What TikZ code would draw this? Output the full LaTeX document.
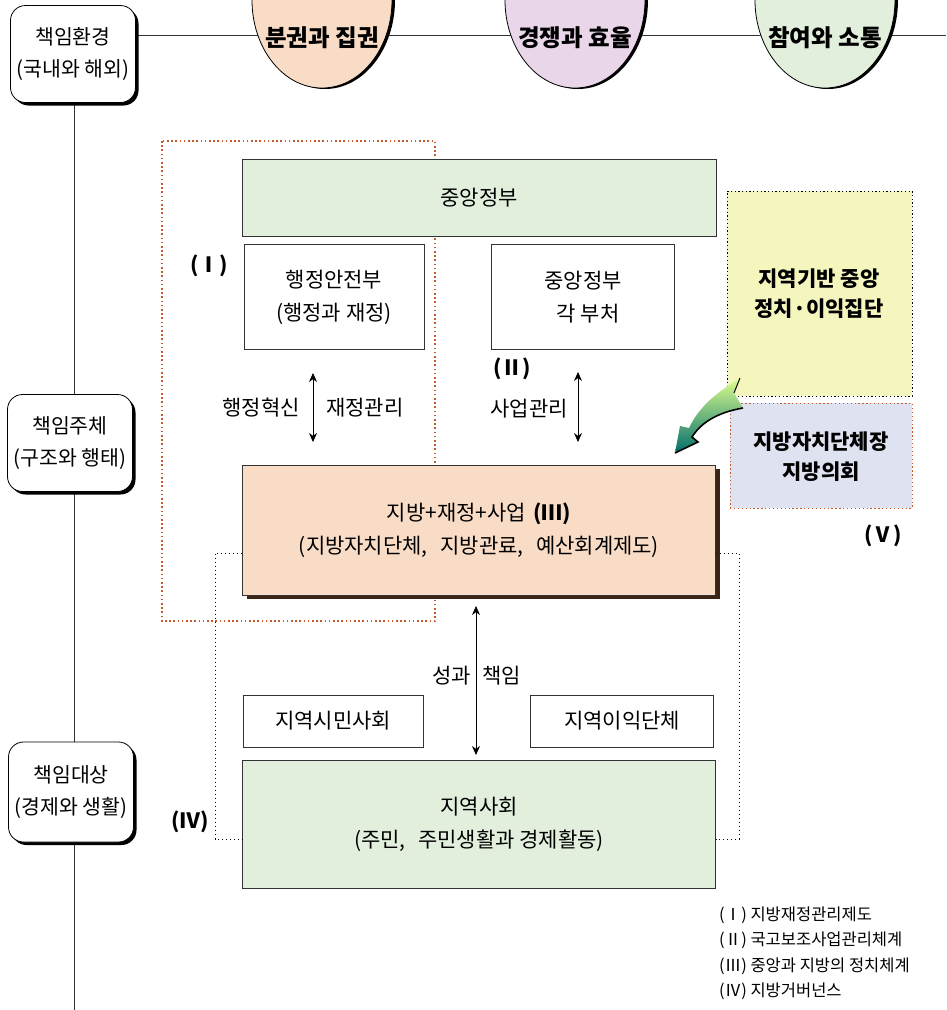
\documentclass[tikz,border=0pt]{standalone}
\usepackage{fontspec}
\setmainfont{Noto Sans CJK KR}
\usetikzlibrary{arrows.meta,shadows}
\definecolor{peach}{HTML}{F9DCC6}
\definecolor{lgreen}{HTML}{E2EFDD}
\definecolor{lpurple}{HTML}{E9D6E9}
\definecolor{lyellow}{HTML}{F5F5BE}
\definecolor{lblue}{HTML}{DFE3F1}
\definecolor{rdot}{HTML}{C55A2B}
\definecolor{dbrown}{HTML}{3A2416}
\tikzset{
  sidebox/.style={draw=black, line width=0.8pt, fill=white, rounded corners=15pt,
    minimum width=125pt, minimum height=97pt, align=center,
    font=\fontsize{20.5}{32}\selectfont,
    general shadow={shadow xshift=3pt, shadow yshift=-3pt, fill=black, opacity=1}},
  plainbox/.style={draw=black!80, line width=0.7pt, fill=white, align=center,
    font=\fontsize{21}{33}\selectfont},
  txt/.style={font=\fontsize{21}{33}\selectfont, inner sep=0pt},
  bldtxt/.style={font=\bfseries\fontsize{21}{30}\selectfont, inner sep=0pt, align=center},
  legtxt/.style={font=\fontsize{16.5}{18}\selectfont, inner sep=0pt, anchor=west},
  darrow/.style={{Stealth[length=9pt,width=8pt]}-{Stealth[length=9pt,width=8pt]}, line width=0.7pt},
  reddot/.style={draw=rdot, line width=1.3pt, dash pattern=on 1.6pt off 2.6pt},
  blkdot/.style={draw=black, line width=1pt, dash pattern=on 1.4pt off 2.6pt},
}
\begin{document}
\begin{tikzpicture}[x=1pt,y=-1pt]
\useasboundingbox (0,0) rectangle (946,1010);
\fill[white] (0,0) rectangle (946,1010);

% left spine
\draw[line width=0.8pt, black!80] (74,100) -- (74,1010);
% top line
\draw[line width=0.8pt, black!80] (138,35) -- (946,35);

% top ellipses
\foreach \cx/\col/\lab in {322/peach/분권과 집권, 575/lpurple/경쟁과 효율, 825/lgreen/참여와 소통}{
  \fill[black] (\cx-70+3,0) arc[start angle=180,end angle=0,x radius=70,y radius=89] -- cycle;
  \filldraw[fill=\col, draw=black, line width=0.8pt] (\cx-70,0) arc[start angle=180,end angle=0,x radius=70,y radius=88];
  \node[font=\bfseries\fontsize{23.5}{25}\selectfont, inner sep=0pt] at (\cx,38) {\lab};
}

% side boxes
\node[sidebox] (env) at (73,54) {책임환경\\(국내와 해외)};
\node[sidebox] (subj) at (70,443) {책임주체\\(구조와 행태)};
\node[sidebox, minimum height=100pt] (obj) at (71,792) {책임대상\\(경제와 생활)};

% red dotted region
\draw[reddot] (162,141) rectangle (435,621);

% central government
\node[plainbox, fill=lgreen, minimum width=474pt, minimum height=77pt] (cg) at (479,198) {중앙정부};
\node[plainbox, minimum width=180pt, minimum height=105pt] (mois) at (334,297) {행정안전부\\(행정과 재정)};
\node[plainbox, minimum width=183pt, minimum height=105pt] (dept) at (583,297) {중앙정부\\\hspace*{10pt}각 부처};
\node[bldtxt] (l1) at (209,266) {(Ⅰ)};
\node[bldtxt] (l2) at (512,369) {(Ⅱ)};

% arrows
\coordinate (a1t) at (313,373); \coordinate (a1b) at (313,442);
\draw[darrow] (a1t) -- (a1b);
\node[txt, anchor=east] (t1) at (300,408) {행정혁신};
\node[txt, anchor=west] (t2) at (326,408) {재정관리};
\coordinate (a2t) at (578,372); \coordinate (a2b) at (578,442);
\draw[darrow] (a2t) -- (a2b);
\node[txt, anchor=east] (t3) at (568,409) {사업관리};

% right boxes
\node[draw=black, line width=1pt, dash pattern=on 1.3pt off 2.4pt, fill=lyellow, minimum width=185pt, minimum height=205pt, inner sep=0pt] (yb) at (819.5,293.5) {};
\node[bldtxt] at (819,294) {지역기반 중앙\\정치·이익집단};
\node[draw=rdot, line width=1pt, dash pattern=on 1.3pt off 2.6pt, fill=lblue, minimum width=182pt, minimum height=105pt, inner sep=0pt] (bb) at (821,455.5) {};
\node[bldtxt] at (821,457) {지방자치단체장\\지방의회};
\node[bldtxt] (l5) at (883,536) {(Ⅴ)};

% green curved arrow
\shade[top color=green!30!yellow!45, bottom color=teal!85!black, draw=none]
  (740,378) .. controls (718,392) and (700,405) .. (689,428)
  -- (680,426) -- (675,453) -- (698,442) -- (692,437)
  .. controls (702,421) and (720,412) .. (743,408) -- (734,393) -- cycle;
\draw[line width=1.6pt, black] (743,408) .. controls (720,412) and (702,421) .. (692,437) -- (698,442) -- (675,453);
\draw[line width=1pt, black] (740,378) -- (734,393);

% main local box
\node[plainbox, fill=peach, minimum width=473pt, minimum height=130pt,
  general shadow={shadow xshift=4pt, shadow yshift=-4pt, fill=dbrown, opacity=1}] (loc) at (479,530)
  {지방+재정+사업\hspace{0.35em}{\bfseries(Ⅲ)}\\(지방자치단체,\hspace{0.6em}지방관료,\hspace{0.6em}예산회계제도)};

% community
\node[plainbox, minimum width=180pt, minimum height=52pt] (civ) at (333,721) {지역시민사회};
\node[plainbox, minimum width=183pt, minimum height=52pt] (int) at (622,721) {지역이익단체};
\node[plainbox, fill=lgreen, minimum width=473pt, minimum height=128pt] (soc) at (479,824) {지역사회\\(주민,\hspace{0.6em}주민생활과 경제활동)};

\coordinate (a3t) at (476,606); \coordinate (a3b) at (476,755);
\draw[darrow] (a3t) -- (a3b);
\node[txt, anchor=east] (t4) at (471,676) {성과};
\node[txt, anchor=west] (t5) at (482,676) {책임};

% governance dotted loops
\coordinate (gl1) at (215,553); \coordinate (gl2) at (215,839);
\coordinate (gr1) at (739,553); \coordinate (gr2) at (739,839);
\draw[blkdot] (loc.west |- gl1) -- (gl1) -- (gl2) -- (soc.west |- gl2);
\draw[blkdot] (loc.east |- gr1) -- (gr1) -- (gr2) -- (soc.east |- gr2);
\node[bldtxt] (l4) at (190,822) {(Ⅳ)};

% legend
\node[legtxt] at (719,915) {(Ⅰ) 지방재정관리제도};
\node[legtxt] at (719,940) {(Ⅱ) 국고보조사업관리체계};
\node[legtxt] at (719,966) {(Ⅲ) 중앙과 지방의 정치체계};
\node[legtxt] at (719,991) {(Ⅳ) 지방거버넌스};
\end{tikzpicture}
\end{document}
